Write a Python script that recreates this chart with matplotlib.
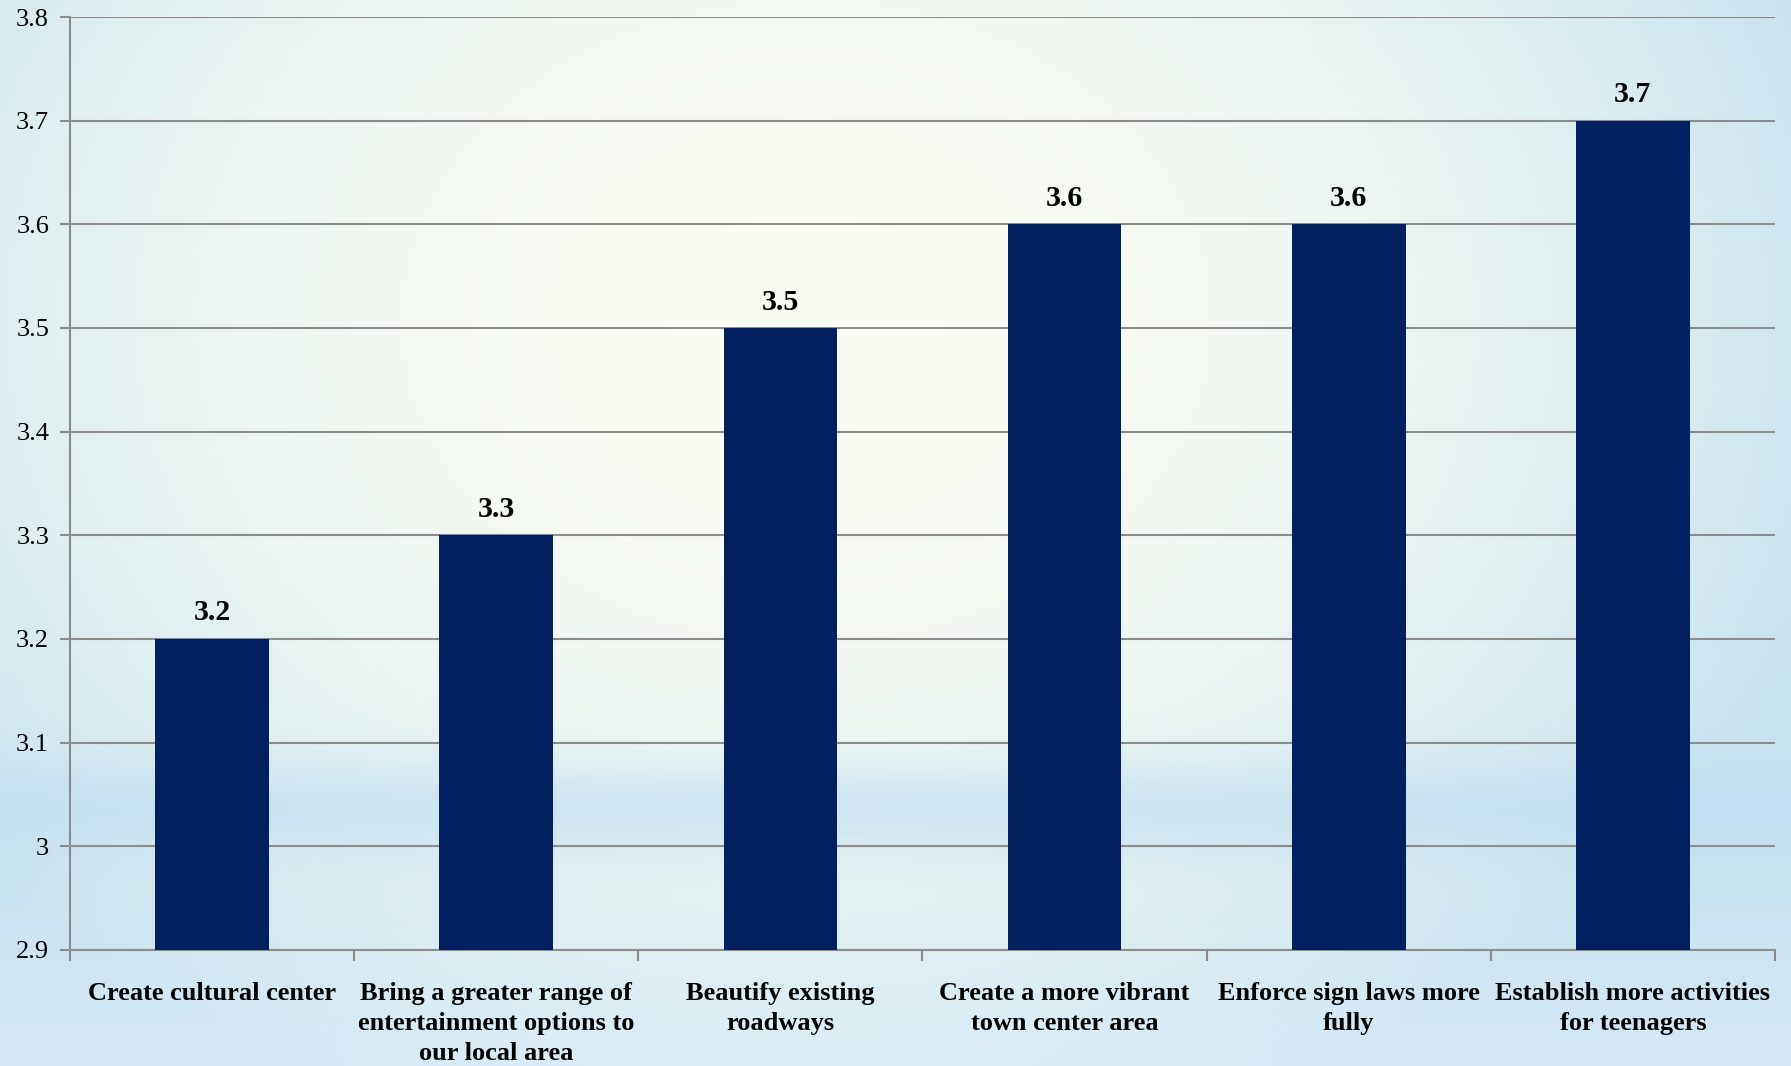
import numpy as np
import matplotlib
matplotlib.use('Agg')
import matplotlib.pyplot as plt

categories = [
    "Create cultural center",
    "Bring a greater range of\nentertainment options to\nour local area",
    "Beautify existing\nroadways",
    "Create a more vibrant\ntown center area",
    "Enforce sign laws more\nfully",
    "Establish more activities\nfor teenagers",
]
values = [3.2, 3.3, 3.5, 3.6, 3.6, 3.7]
y_ticks = [2.9, 3.0, 3.1, 3.2, 3.3, 3.4, 3.5, 3.6, 3.7, 3.8]
y_tick_labels = ["2.9", "3", "3.1", "3.2", "3.3", "3.4", "3.5", "3.6", "3.7", "3.8"]

plt.rcParams['font.family'] = ['Liberation Serif', 'DejaVu Serif']

W, H = 1791, 1066
fig = plt.figure(figsize=(W / 100, H / 100), dpi=100)

# soft slide-style background: bluish edges, pale centre, blue band low down
h, w = 200, 300
yy, xx = np.mgrid[0:1:h * 1j, 0:1:w * 1j]
edge = np.array([0.79, 0.89, 0.94])
centre = np.array([0.98, 0.99, 0.95])
band = np.array([0.76, 0.87, 0.95])
r = np.sqrt(((xx - 0.45) / 0.6) ** 2 + ((yy - 0.3) / 0.8) ** 2)
t = np.clip(r, 0, 1)[..., None] ** 2
img = centre * (1 - t) + edge * t
b = np.exp(-((yy - 0.76) / 0.045) ** 2)[..., None] * 0.65
img = img * (1 - b) + band * b
bottom = np.clip((yy - 0.82) / 0.18, 0, 1)[..., None] * 0.4
img = img * (1 - bottom) + np.array([0.90, 0.95, 0.99]) * bottom
bg_ax = fig.add_axes([0, 0, 1, 1], zorder=-1)
bg_ax.imshow(img, aspect='auto', extent=[0, 1, 0, 1], interpolation='bicubic')
bg_ax.axis('off')

ax = fig.add_axes([70 / W, 1 - 950 / H, (1775 - 70) / W, (950 - 17) / H])
ax.patch.set_alpha(0)

x = np.arange(len(categories))
ax.bar(x, values, width=0.4, color='#002060', zorder=3)

ax.set_xlim(-0.5, len(categories) - 0.5)
ax.set_ylim(2.9, 3.8)
ax.set_yticks(y_ticks)
ax.set_yticklabels(y_tick_labels, fontsize=19)
ax.yaxis.grid(True, color='#8c8c8c', linewidth=1.5, zorder=0)
ax.set_axisbelow(True)

# categories as minor labels, boundary ticks as major
ax.set_xticks(np.arange(len(categories) + 1) - 0.5)
ax.set_xticklabels([])
ax.set_xticks(x, minor=True)
ax.set_xticklabels(categories, minor=True, fontsize=19, fontweight='bold',
                   linespacing=1.4)
ax.tick_params(axis='x', which='minor', length=0, pad=23)
ax.tick_params(axis='x', which='major', length=8, width=1.5, color='#8c8c8c')
ax.tick_params(axis='y', length=7, width=1.5, color='#8c8c8c', pad=8)

for s in ['top', 'right']:
    ax.spines[s].set_visible(False)
for s in ['left', 'bottom']:
    ax.spines[s].set_color('#8c8c8c')
    ax.spines[s].set_linewidth(1.5)

for xi, v in zip(x, values):
    ax.annotate(f"{v:.1f}", (xi, v), xytext=(0, 9), textcoords='offset points',
                ha='center', va='bottom', fontsize=21.5, fontweight='bold')

fig.savefig('out.png', dpi=100)
